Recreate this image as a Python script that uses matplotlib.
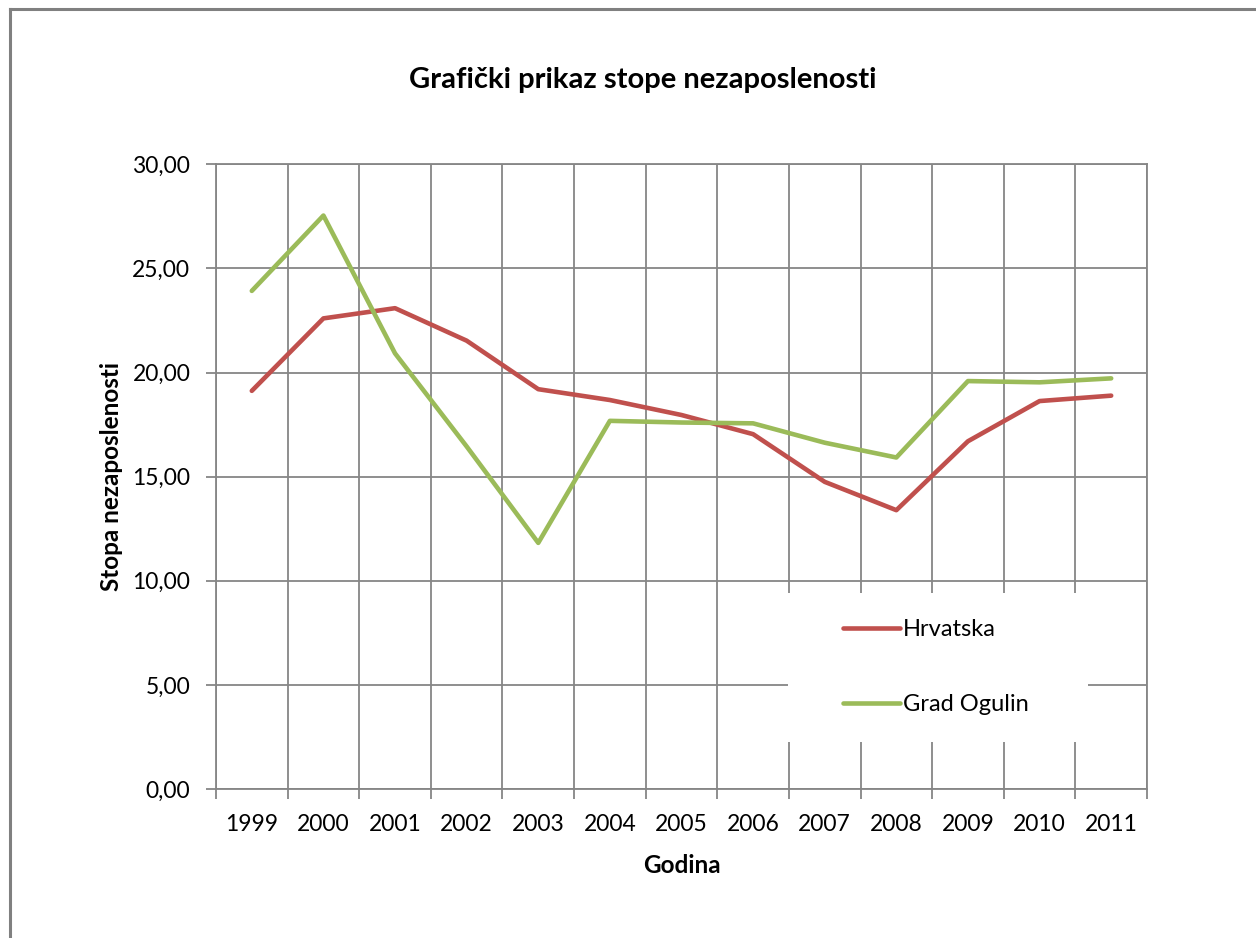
import matplotlib
matplotlib.use("Agg")
import matplotlib.pyplot as plt
from matplotlib.patches import Rectangle
from matplotlib.lines import Line2D

years = ["1999", "2000", "2001", "2002", "2003", "2004", "2005",
         "2006", "2007", "2008", "2009", "2010", "2011"]
hrvatska = [19.12, 22.60, 23.09, 21.53, 19.20, 18.68, 17.96,
            17.04, 14.75, 13.39, 16.70, 18.63, 18.89]
ogulin = [23.92, 27.54, 20.92, 16.45, 11.82, 17.68, 17.60,
          17.56, 16.63, 15.92, 19.59, 19.53, 19.72]
yticks = [0, 5, 10, 15, 20, 25, 30]
ytick_labels = ["0,00", "5,00", "10,00", "15,00", "20,00", "25,00", "30,00"]

plt.rcParams['font.family'] = ['Lato', 'DejaVu Sans']

W, H = 1256, 938
fig = plt.figure(figsize=(W / 100, H / 100), dpi=100)
ax = fig.add_axes([216 / W, 1 - 789 / H, (1147 - 216) / W, (789 - 164.3) / H])

grid_c = "#868686"
x = list(range(len(years)))
ax.plot(x, hrvatska, color="#C0504D", lw=3.3, solid_joinstyle="round",
        solid_capstyle="round", zorder=3, label="Hrvatska")
ax.plot(x, ogulin, color="#9BBB59", lw=3.3, solid_joinstyle="round",
        solid_capstyle="round", zorder=3, label="Grad Ogulin")

ax.set_xlim(-0.5, len(years) - 0.5)
ax.set_ylim(0, 30)
ax.set_yticks(yticks)
ax.set_yticklabels(ytick_labels)
ax.set_xticks(x)
ax.set_xticklabels(years)
ax.set_xticks([i - 0.5 for i in range(len(years) + 1)], minor=True)

ax.tick_params(axis="x", which="major", length=0, pad=18, labelsize=16.5,
               colors="black")
ax.tick_params(axis="x", which="minor", length=7, width=1.3, color=grid_c)
ax.tick_params(axis="y", which="major", length=7, width=1.3, color=grid_c,
               pad=11.5, labelsize=16.5, labelcolor="black")
ax.set_axisbelow(True)
ax.grid(axis="y", which="major", color=grid_c, lw=1.3)
ax.grid(axis="x", which="minor", color=grid_c, lw=1.3)
for s in ax.spines.values():
    s.set_color(grid_c)
    s.set_linewidth(1.3)

ax.set_ylabel("Stopa nezaposlenosti", fontsize=17.5, fontweight="bold", labelpad=7)
ax.set_xlabel("Godina", fontsize=17.5, fontweight="bold", labelpad=14)

fig.text(643 / W, 1 - 80 / H, "Grafički prikaz stope nezaposlenosti",
         ha="center", va="center", fontsize=21, fontweight="bold")

# legend background box
rect = Rectangle((788 / W, 1 - 742 / H), 300 / W, 149 / H,
                 transform=fig.transFigure, facecolor="white",
                 edgecolor="none", zorder=2)
ax.add_patch(rect)
leg = ax.legend(loc="center left", bbox_to_anchor=(843 / W, 1 - 667 / H),
                bbox_transform=fig.transFigure, frameon=False, fontsize=17,
                handlelength=2.4, handletextpad=0.15, labelspacing=2.3,
                borderpad=0, borderaxespad=0)

# outer chart border (left and top)
fig.add_artist(Line2D([9.5 / W, 9.5 / W], [0, 1 - 9.5 / H],
                      transform=fig.transFigure, color="#808080", lw=2.2))
fig.add_artist(Line2D([9.5 / W, 1], [1 - 9.5 / H, 1 - 9.5 / H],
                      transform=fig.transFigure, color="#808080", lw=2.2))

fig.savefig("out.png", dpi=100)
